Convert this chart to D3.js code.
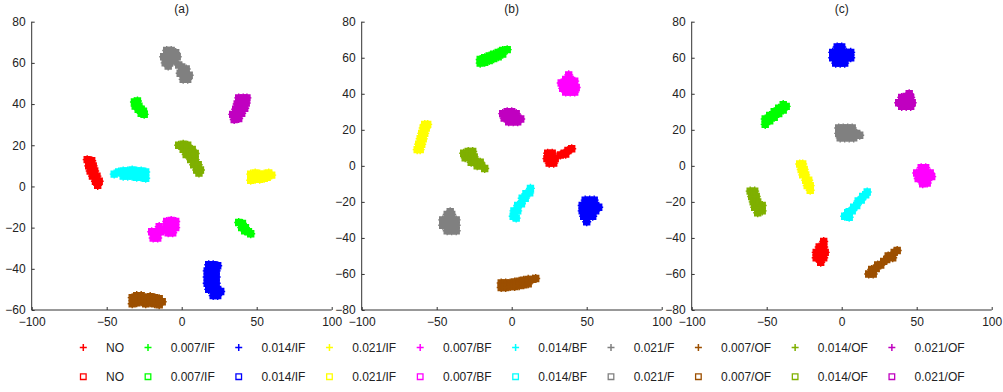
<!DOCTYPE html>
<html><head><meta charset="utf-8">
<script src="https://cdn.jsdelivr.net/npm/d3@7"></script>
<style>
body{margin:0;background:#fff;}
svg{display:block;font-family:"Liberation Sans",Arial,Helvetica,sans-serif;}
</style></head>
<body><svg id="chart" width="1003" height="392"></svg>
<script>
// ---- data ----
const classes = ["NO","0.007/IF","0.014/IF","0.021/IF","0.007/BF","0.014/BF","0.021/F","0.007/OF","0.014/OF","0.021/OF"];
const colors  = ["#ff0000","#00ff00","#0000ff","#ffff00","#ff00ff","#00ffff","#808080","#9c4f00","#7fb000","#c000c0"];
const titles  = ["(a)","(b)","(c)"];
const xTicks  = [-100,-50,0,50,100];
const yTicksA = [-60,-40,-20,0,20,40,60,80];
const yTicksBC = [-80,-60,-40,-20,0,20,40,60,80];

// clusters: [classIndex, [[x,y],...]]
const panelA = [
 [6,[[-10,66],[-7,66],[-4,65],[-12,63],[-9,63],[-6,63],[-3,63],[-11,60],[-8,60],[-5,61],[-2,59],[-9,58.5],[0,58],[3,57],[-1,55],[2,55],[5,54],[1,52],[4,52]]],
 [1,[[-31.5,41],[-29.5,41.5],[-31,39],[-28.5,39],[-27,37.5],[-29,37.5],[-25.5,36.5],[-25,35],[-27,35.5]]],
 [9,[[38,43],[41,43],[43.5,43],[37,40],[40,40],[43,40.5],[36,37.5],[39,37.5],[42,38],[34,35],[37,35],[40,35.5],[35,32.5],[38,33]]],
 [8,[[-2,20],[1,20.5],[4,20],[1,18],[4,18],[7,18],[3,15.5],[6,15.5],[9,16],[6,13],[9,13],[8,10.5],[11,10.5],[10,8],[12.5,8],[11.5,6.5]]],
 [0,[[-63,13],[-60,12.5],[-62,10],[-59,10],[-61,7.5],[-58,7.5],[-59.5,5],[-56.5,5],[-57.5,2.5],[-55,2.5],[-56,0.5]]],
 [5,[[-45,6],[-42,7],[-39,7.5],[-39,5],[-36,7.5],[-36,5],[-33,8],[-33,5],[-30,7.5],[-30,4.5],[-27,7.5],[-27,4.5],[-24,7],[-24,4]]],
 [3,[[46,6],[46,3],[49,6.5],[49,3.5],[52,6],[52,3.5],[55,6],[55,4],[58,6.5],[60,5.5],[57,4.5]]],
 [4,[[-19,-25],[-16,-25],[-20,-22],[-17,-22],[-14,-22],[-15,-19.5],[-12,-21],[-10,-17],[-7,-16.5],[-4,-17],[-10,-20],[-7,-20],[-4,-20],[-9,-22.5],[-6,-22.5]]],
 [1,[[38,-17.5],[40.5,-18],[40,-20],[42.5,-20],[42,-21.5],[44.5,-22],[46,-23]]],
 [2,[[18,-38],[21,-38],[24,-38.5],[17,-41],[20,-41],[23,-41],[17,-44],[20,-44],[23,-44],[17,-47],[20,-47],[23,-47],[18,-50],[21,-50],[24,-50],[21,-53],[24,-53],[26,-51]]],
 [7,[[-33,-54],[-33,-57],[-30,-53],[-30,-56.5],[-27,-53],[-27,-56],[-24,-54],[-24,-57],[-21,-53.5],[-21,-56.5],[-18,-54],[-18,-57],[-15,-54.5],[-15,-57.5],[-13,-56]]]
];
const panelB = [
 [1,[[-21,59],[-21,57],[-18,60],[-18,57.5],[-15,61],[-15,58.5],[-12,62],[-12,59.5],[-9,63],[-9,60.5],[-6,64],[-6,62],[-3,64.5]]],
 [4,[[33,46],[36,48],[39,48],[42,47],[34,43],[37,44],[40,44],[43,43.5],[36,41],[39,41],[42,41],[38,50.5]]],
 [9,[[-6,29],[-3,30],[0,30],[3,29],[-5,26.5],[-2,27],[1,27],[4,26.5],[6,26],[-2,24.5],[1,24.5],[4,24.5]]],
 [3,[[-63,9],[-61,9],[-62,12],[-60,12],[-61,15],[-59,15],[-60,18],[-58,18],[-59,21],[-57,21],[-58,23],[-56,23]]],
 [8,[[-32,7],[-29,8],[-26,8],[-31,4.5],[-28,5],[-25,5],[-27,2],[-24,2.5],[-21,2],[-23,0],[-20,0],[-18,-1.5]]],
 [0,[[24,7],[27,7],[23.5,4],[26.5,4],[29,4],[25,1.5],[28,1.5],[32.5,6],[35,7],[37.5,8.5],[40,9.5],[36,6.5]]],
 [5,[[1,-28],[1.5,-25],[4,-25],[4,-22],[6.5,-21],[7,-18],[9,-18],[9.5,-15.5],[12,-15],[12.5,-12.5],[3,-29]]],
 [2,[[49,-19],[52,-19],[55,-19],[47,-22],[50,-22],[53,-22],[56,-22],[47,-25],[50,-25],[53,-25],[56,-25],[48,-28],[51,-28],[54,-28],[50,-31],[58,-23]]],
 [6,[[-43,-27],[-40,-27],[-46,-30],[-43,-30],[-40,-30],[-37,-30],[-46,-33],[-43,-33],[-40,-33],[-37,-33],[-43,-36],[-40,-36],[-37,-36],[-41,-25.5]]],
 [7,[[-7,-65],[-7,-67.5],[-4,-65],[-4,-67.5],[-1,-65],[-1,-67],[2,-64.5],[2,-67],[5,-64],[5,-66.5],[8,-63.5],[8,-66],[11,-63],[11,-65.5],[14,-63],[16,-62.5]]]
];
const panelC = [
 [2,[[-3,66],[0,66],[-6,63],[-3,63],[0,63],[3,63],[6,63],[-6,60],[-3,60],[0,60],[3,60],[6,60],[-4,57],[-1,57],[2,57]]],
 [9,[[40,38],[43,38.5],[46,38],[38,35],[41,35.5],[44,35.5],[47,35],[40,33],[43,33],[46,33],[45,40]]],
 [1,[[-51,23],[-51,26],[-48,25],[-48,28],[-45,27],[-45,30],[-42,29],[-42,32],[-39,31],[-39,34],[-37,33]]],
 [6,[[-2,21],[1,21],[4,21],[7,21],[-2,18],[1,18],[4,18],[7,18],[10,18],[12,17],[-1,15.5],[2,15.5],[5,15.5],[8,15.5]]],
 [4,[[53,-1],[56,-1],[50,-4],[53,-4],[56,-4],[59,-4],[51,-7],[54,-7],[57,-7],[60,-6],[54,-10],[57,-9.5]]],
 [3,[[-28,1],[-26,1],[-27,-2],[-25,-2],[-26,-5],[-24,-5],[-24,-8],[-22,-8],[-23,-11],[-21,-11],[-21,-13.5]]],
 [8,[[-61,-14],[-58,-14],[-60,-17],[-57,-17],[-59,-20],[-56,-20],[-58,-23],[-55,-23],[-56,-26],[-53,-25],[-53,-22]]],
 [5,[[2,-28],[4,-26],[5,-28.5],[7,-25],[8,-23],[10,-22],[11,-19.5],[13,-19],[14,-17],[16,-16],[17,-14.5],[5,-25.5]]],
 [0,[[-12,-42],[-12,-45],[-15,-45],[-11,-48],[-14,-48],[-17,-48],[-12,-51],[-15,-51],[-17,-51],[-14,-53.5]]],
 [7,[[18,-60],[21,-60],[20,-57.5],[23,-57],[24,-55],[26,-55],[28,-53],[30,-52],[31,-50],[33,-50],[35,-48],[37,-47],[34,-51]]]
];

// ---- drawing ----
const svg = d3.select("#chart");
const panels = [
  {data: panelA, yDom: [-60,80], yTicks: yTicksA, left: 31.7},
  {data: panelB, yDom: [-80,80], yTicks: yTicksBC, left: 361.7},
  {data: panelC, yDom: [-80,80], yTicks: yTicksBC, left: 691.7}
];
const plotTop = 21.7, plotBottom = 310, pw = 300;
const tickFont = 12;

function plusPath(x,y,a){return `M${x-a},${y}H${x+a}M${x},${y-a}V${y+a}`;}
function sqPath(x,y,a){return `M${x-a},${y-a}H${x+a}V${y+a}H${x-a}Z`;}

panels.forEach((p,i)=>{
  const x = d3.scaleLinear().domain([-100,100]).range([p.left, p.left+pw]);
  const y = d3.scaleLinear().domain(p.yDom).range([plotBottom, plotTop]);
  const g = svg.append("g");

  // markers
  p.data.forEach(([ci, pts])=>{
    const cg = g.append("g").attr("stroke",colors[ci]).attr("stroke-width",1.4);
    cg.selectAll("path.s").data(pts).join("path").attr("class","s").attr("fill",colors[ci])
      .attr("d",d=>sqPath(x(d[0]),y(d[1]),3));
    cg.selectAll("path.p").data(pts).join("path").attr("class","p").attr("fill","none")
      .attr("d",d=>plusPath(x(d[0]),y(d[1]),4.5));
  });

  // axes
  const fmt = d=>String(d).replace("-","\u2212");
  const xa = d3.axisBottom(x).tickValues(xTicks).tickSize(-3).tickPadding(7).tickFormat(fmt);
  const ya = d3.axisLeft(y).tickValues(p.yTicks).tickSize(-3).tickPadding(6).tickFormat(fmt);
  const gx = g.append("g").attr("transform",`translate(0,${plotBottom})`).call(xa);
  const gy = g.append("g").attr("transform",`translate(${p.left},0)`).call(ya);
  [gx,gy].forEach(a=>{
    a.selectAll(".tick line").attr("stroke","#333");
    a.selectAll("text").attr("fill","#222").style("font-size",tickFont+"px").style("font-family","Liberation Sans, Arial, sans-serif");
  });
  gx.select(".domain").attr("stroke","#333").attr("d",`M${p.left},0H${p.left+pw}`);
  gy.select(".domain").attr("stroke","#333").attr("d",`M0,${plotBottom}V${plotTop}`);

  g.append("text").attr("x",p.left+pw/2).attr("y",13).attr("text-anchor","middle")
    .style("font-size","12px").attr("fill","#222").text(titles[i]);
});

// legend
const leg = svg.append("g").style("font-size","12px");
let lx = 83.3;
classes.forEach((c,i)=>{
  leg.append("path").attr("d",plusPath(lx,347.5,3.5)).attr("stroke",colors[i]).attr("stroke-width",1.5).attr("fill","none");
  leg.append("path").attr("d",sqPath(lx,376.7,2.8)).attr("stroke",colors[i]).attr("stroke-width",1.3).attr("fill","none");
  const t1 = leg.append("text").attr("x",lx+22.7).attr("y",351.8).attr("fill","#222").text(c);
  leg.append("text").attr("x",lx+22.7).attr("y",381).attr("fill","#222").text(c);
  lx = lx + 22.7 + t1.node().getComputedTextLength() + 24;
});
</script></body></html>
